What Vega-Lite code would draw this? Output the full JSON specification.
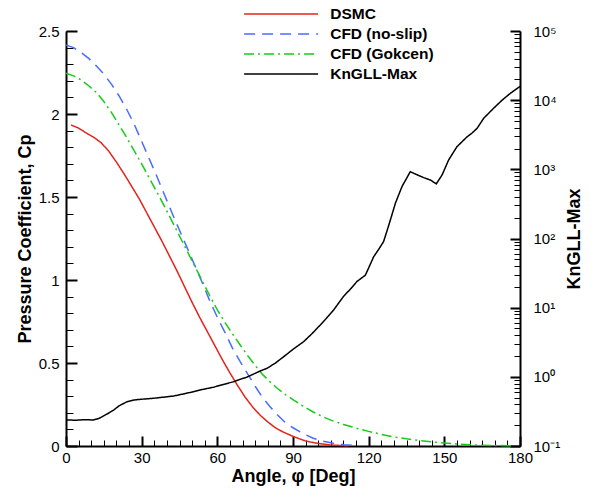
{
  "$schema": "https://vega.github.io/schema/vega-lite/v6.json",
  "width": 454,
  "height": 415,
  "autosize": {"type": "none"},
  "padding": {"left": 66, "top": 31, "right": 71, "bottom": 46},
  "background": "white",
  "datasets": {
    "cp": [
      {"series": "DSMC", "angle": 2, "cp": 1.934}, {"series": "DSMC", "angle": 5, "cp": 1.915}, {"series": "DSMC", "angle": 8, "cp": 1.886}, {"series": "DSMC", "angle": 11, "cp": 1.86}, {"series": "DSMC", "angle": 14, "cp": 1.826}, {"series": "DSMC", "angle": 17, "cp": 1.775}, {"series": "DSMC", "angle": 20, "cp": 1.71}, {"series": "DSMC", "angle": 23, "cp": 1.64}, {"series": "DSMC", "angle": 26, "cp": 1.565}, {"series": "DSMC", "angle": 29, "cp": 1.49}, {"series": "DSMC", "angle": 32, "cp": 1.405}, {"series": "DSMC", "angle": 35, "cp": 1.32}, {"series": "DSMC", "angle": 38, "cp": 1.235}, {"series": "DSMC", "angle": 41, "cp": 1.145}, {"series": "DSMC", "angle": 44, "cp": 1.055}, {"series": "DSMC", "angle": 47, "cp": 0.96}, {"series": "DSMC", "angle": 50, "cp": 0.865}, {"series": "DSMC", "angle": 53, "cp": 0.775}, {"series": "DSMC", "angle": 56, "cp": 0.69}, {"series": "DSMC", "angle": 59, "cp": 0.605}, {"series": "DSMC", "angle": 62, "cp": 0.52}, {"series": "DSMC", "angle": 65, "cp": 0.44}, {"series": "DSMC", "angle": 68, "cp": 0.365}, {"series": "DSMC", "angle": 71, "cp": 0.295}, {"series": "DSMC", "angle": 74, "cp": 0.235}, {"series": "DSMC", "angle": 77, "cp": 0.185}, {"series": "DSMC", "angle": 80, "cp": 0.145}, {"series": "DSMC", "angle": 83, "cp": 0.11}, {"series": "DSMC", "angle": 86, "cp": 0.085}, {"series": "DSMC", "angle": 90, "cp": 0.058}, {"series": "DSMC", "angle": 95, "cp": 0.03}, {"series": "DSMC", "angle": 100, "cp": 0.015}, {"series": "DSMC", "angle": 105, "cp": 0.006}, {"series": "DSMC", "angle": 112, "cp": 0.001},
      {"series": "CFD (no-slip)", "angle": 0, "cp": 2.415}, {"series": "CFD (no-slip)", "angle": 3, "cp": 2.4}, {"series": "CFD (no-slip)", "angle": 6, "cp": 2.37}, {"series": "CFD (no-slip)", "angle": 9, "cp": 2.335}, {"series": "CFD (no-slip)", "angle": 12, "cp": 2.29}, {"series": "CFD (no-slip)", "angle": 15, "cp": 2.24}, {"series": "CFD (no-slip)", "angle": 18, "cp": 2.18}, {"series": "CFD (no-slip)", "angle": 21, "cp": 2.11}, {"series": "CFD (no-slip)", "angle": 24, "cp": 2.03}, {"series": "CFD (no-slip)", "angle": 27, "cp": 1.94}, {"series": "CFD (no-slip)", "angle": 30, "cp": 1.835}, {"series": "CFD (no-slip)", "angle": 33, "cp": 1.73}, {"series": "CFD (no-slip)", "angle": 36, "cp": 1.625}, {"series": "CFD (no-slip)", "angle": 39, "cp": 1.515}, {"series": "CFD (no-slip)", "angle": 42, "cp": 1.405}, {"series": "CFD (no-slip)", "angle": 45, "cp": 1.3}, {"series": "CFD (no-slip)", "angle": 48, "cp": 1.195}, {"series": "CFD (no-slip)", "angle": 51, "cp": 1.09}, {"series": "CFD (no-slip)", "angle": 54, "cp": 0.985}, {"series": "CFD (no-slip)", "angle": 57, "cp": 0.875}, {"series": "CFD (no-slip)", "angle": 60, "cp": 0.775}, {"series": "CFD (no-slip)", "angle": 63, "cp": 0.685}, {"series": "CFD (no-slip)", "angle": 66, "cp": 0.59}, {"series": "CFD (no-slip)", "angle": 69, "cp": 0.51}, {"series": "CFD (no-slip)", "angle": 72, "cp": 0.435}, {"series": "CFD (no-slip)", "angle": 75, "cp": 0.36}, {"series": "CFD (no-slip)", "angle": 78, "cp": 0.29}, {"series": "CFD (no-slip)", "angle": 81, "cp": 0.235}, {"series": "CFD (no-slip)", "angle": 84, "cp": 0.185}, {"series": "CFD (no-slip)", "angle": 87, "cp": 0.14}, {"series": "CFD (no-slip)", "angle": 90, "cp": 0.11}, {"series": "CFD (no-slip)", "angle": 94, "cp": 0.075}, {"series": "CFD (no-slip)", "angle": 98, "cp": 0.047}, {"series": "CFD (no-slip)", "angle": 102, "cp": 0.028}, {"series": "CFD (no-slip)", "angle": 106, "cp": 0.016}, {"series": "CFD (no-slip)", "angle": 110, "cp": 0.008}, {"series": "CFD (no-slip)", "angle": 116, "cp": 0.002},
      {"series": "CFD (Gokcen)", "angle": 0, "cp": 2.245}, {"series": "CFD (Gokcen)", "angle": 3, "cp": 2.23}, {"series": "CFD (Gokcen)", "angle": 6, "cp": 2.205}, {"series": "CFD (Gokcen)", "angle": 9, "cp": 2.17}, {"series": "CFD (Gokcen)", "angle": 12, "cp": 2.13}, {"series": "CFD (Gokcen)", "angle": 15, "cp": 2.075}, {"series": "CFD (Gokcen)", "angle": 18, "cp": 2.01}, {"series": "CFD (Gokcen)", "angle": 21, "cp": 1.935}, {"series": "CFD (Gokcen)", "angle": 24, "cp": 1.86}, {"series": "CFD (Gokcen)", "angle": 27, "cp": 1.78}, {"series": "CFD (Gokcen)", "angle": 30, "cp": 1.7}, {"series": "CFD (Gokcen)", "angle": 33, "cp": 1.615}, {"series": "CFD (Gokcen)", "angle": 36, "cp": 1.53}, {"series": "CFD (Gokcen)", "angle": 39, "cp": 1.445}, {"series": "CFD (Gokcen)", "angle": 42, "cp": 1.355}, {"series": "CFD (Gokcen)", "angle": 45, "cp": 1.265}, {"series": "CFD (Gokcen)", "angle": 48, "cp": 1.175}, {"series": "CFD (Gokcen)", "angle": 51, "cp": 1.085}, {"series": "CFD (Gokcen)", "angle": 54, "cp": 0.995}, {"series": "CFD (Gokcen)", "angle": 57, "cp": 0.905}, {"series": "CFD (Gokcen)", "angle": 60, "cp": 0.82}, {"series": "CFD (Gokcen)", "angle": 63, "cp": 0.745}, {"series": "CFD (Gokcen)", "angle": 66, "cp": 0.675}, {"series": "CFD (Gokcen)", "angle": 69, "cp": 0.61}, {"series": "CFD (Gokcen)", "angle": 72, "cp": 0.545}, {"series": "CFD (Gokcen)", "angle": 75, "cp": 0.485}, {"series": "CFD (Gokcen)", "angle": 78, "cp": 0.43}, {"series": "CFD (Gokcen)", "angle": 81, "cp": 0.385}, {"series": "CFD (Gokcen)", "angle": 84, "cp": 0.345}, {"series": "CFD (Gokcen)", "angle": 87, "cp": 0.31}, {"series": "CFD (Gokcen)", "angle": 90, "cp": 0.28}, {"series": "CFD (Gokcen)", "angle": 94, "cp": 0.24}, {"series": "CFD (Gokcen)", "angle": 98, "cp": 0.205}, {"series": "CFD (Gokcen)", "angle": 102, "cp": 0.175}, {"series": "CFD (Gokcen)", "angle": 106, "cp": 0.15}, {"series": "CFD (Gokcen)", "angle": 110, "cp": 0.13}, {"series": "CFD (Gokcen)", "angle": 115, "cp": 0.108}, {"series": "CFD (Gokcen)", "angle": 120, "cp": 0.088}, {"series": "CFD (Gokcen)", "angle": 125, "cp": 0.07}, {"series": "CFD (Gokcen)", "angle": 130, "cp": 0.055}, {"series": "CFD (Gokcen)", "angle": 135, "cp": 0.043}, {"series": "CFD (Gokcen)", "angle": 140, "cp": 0.033}, {"series": "CFD (Gokcen)", "angle": 145, "cp": 0.025}, {"series": "CFD (Gokcen)", "angle": 150, "cp": 0.018}, {"series": "CFD (Gokcen)", "angle": 155, "cp": 0.012}, {"series": "CFD (Gokcen)", "angle": 160, "cp": 0.008}, {"series": "CFD (Gokcen)", "angle": 165, "cp": 0.005}, {"series": "CFD (Gokcen)", "angle": 170, "cp": 0.003}, {"series": "CFD (Gokcen)", "angle": 178, "cp": 0.001}
    ],
    "kn": [
      {"series": "KnGLL-Max", "angle": 0, "kn": 0.238}, {"series": "KnGLL-Max", "angle": 4, "kn": 0.236}, {"series": "KnGLL-Max", "angle": 7, "kn": 0.24}, {"series": "KnGLL-Max", "angle": 10.9, "kn": 0.238}, {"series": "KnGLL-Max", "angle": 13, "kn": 0.25}, {"series": "KnGLL-Max", "angle": 14.9, "kn": 0.272}, {"series": "KnGLL-Max", "angle": 17, "kn": 0.3}, {"series": "KnGLL-Max", "angle": 18.9, "kn": 0.331}, {"series": "KnGLL-Max", "angle": 21, "kn": 0.38}, {"series": "KnGLL-Max", "angle": 24.2, "kn": 0.437}, {"series": "KnGLL-Max", "angle": 27, "kn": 0.462}, {"series": "KnGLL-Max", "angle": 29.5, "kn": 0.473}, {"series": "KnGLL-Max", "angle": 34.7, "kn": 0.49}, {"series": "KnGLL-Max", "angle": 38, "kn": 0.505}, {"series": "KnGLL-Max", "angle": 42.7, "kn": 0.528}, {"series": "KnGLL-Max", "angle": 46, "kn": 0.56}, {"series": "KnGLL-Max", "angle": 50.6, "kn": 0.61}, {"series": "KnGLL-Max", "angle": 54, "kn": 0.655}, {"series": "KnGLL-Max", "angle": 58.5, "kn": 0.708}, {"series": "KnGLL-Max", "angle": 62, "kn": 0.77}, {"series": "KnGLL-Max", "angle": 66.5, "kn": 0.851}, {"series": "KnGLL-Max", "angle": 69, "kn": 0.92}, {"series": "KnGLL-Max", "angle": 71.6, "kn": 0.986}, {"series": "KnGLL-Max", "angle": 74, "kn": 1.08}, {"series": "KnGLL-Max", "angle": 77, "kn": 1.216}, {"series": "KnGLL-Max", "angle": 79.7, "kn": 1.327}, {"series": "KnGLL-Max", "angle": 83, "kn": 1.58}, {"series": "KnGLL-Max", "angle": 86.3, "kn": 1.954}, {"series": "KnGLL-Max", "angle": 90, "kn": 2.5}, {"series": "KnGLL-Max", "angle": 94.2, "kn": 3.22}, {"series": "KnGLL-Max", "angle": 97.5, "kn": 4.2}, {"series": "KnGLL-Max", "angle": 100.8, "kn": 5.61}, {"series": "KnGLL-Max", "angle": 103.5, "kn": 7.2}, {"series": "KnGLL-Max", "angle": 106.1, "kn": 9.25}, {"series": "KnGLL-Max", "angle": 110, "kn": 14.5}, {"series": "KnGLL-Max", "angle": 113, "kn": 19}, {"series": "KnGLL-Max", "angle": 115.3, "kn": 23.8}, {"series": "KnGLL-Max", "angle": 118.7, "kn": 29.5}, {"series": "KnGLL-Max", "angle": 122, "kn": 54.6}, {"series": "KnGLL-Max", "angle": 124, "kn": 70}, {"series": "KnGLL-Max", "angle": 125.9, "kn": 89.9}, {"series": "KnGLL-Max", "angle": 127.3, "kn": 130}, {"series": "KnGLL-Max", "angle": 128.6, "kn": 185}, {"series": "KnGLL-Max", "angle": 130.6, "kn": 324}, {"series": "KnGLL-Max", "angle": 133.2, "kn": 562}, {"series": "KnGLL-Max", "angle": 136.5, "kn": 925}, {"series": "KnGLL-Max", "angle": 139, "kn": 840}, {"series": "KnGLL-Max", "angle": 141.8, "kn": 759}, {"series": "KnGLL-Max", "angle": 144.5, "kn": 700}, {"series": "KnGLL-Max", "angle": 146.8, "kn": 617}, {"series": "KnGLL-Max", "angle": 149.1, "kn": 828}, {"series": "KnGLL-Max", "angle": 151.7, "kn": 1365}, {"series": "KnGLL-Max", "angle": 155, "kn": 2123}, {"series": "KnGLL-Max", "angle": 159, "kn": 2951}, {"series": "KnGLL-Max", "angle": 161, "kn": 3350}, {"series": "KnGLL-Max", "angle": 163, "kn": 3917}, {"series": "KnGLL-Max", "angle": 165.6, "kn": 5470}, {"series": "KnGLL-Max", "angle": 169.5, "kn": 7621}, {"series": "KnGLL-Max", "angle": 172.9, "kn": 10000}, {"series": "KnGLL-Max", "angle": 176.2, "kn": 12590}, {"series": "KnGLL-Max", "angle": 180, "kn": 15800}
    ]
  },
  "config": {
    "view": {"stroke": null},
    "font": "Liberation Sans",
    "axis": {
      "labelFont": "Liberation Sans",
      "labelFontSize": 15,
      "labelColor": "black",
      "titleFont": "Liberation Sans",
      "titleFontSize": 18,
      "titleFontWeight": "bold",
      "titleColor": "black",
      "domainColor": "black",
      "tickColor": "black",
      "grid": false,
      "labelFlush": false,
      "labelOverlap": false
    }
  },
  "layer": [
    {
      "data": {"name": "cp"},
      "mark": {"type": "line", "strokeWidth": 1.5},
      "encoding": {
        "x": {"field": "angle", "type": "quantitative", "scale": {"domain": [0, 180], "nice": false},
          "axis": {"orient": "bottom", "values": [0, 30, 60, 90, 120, 150, 180], "format": "d", "tickSize": -10, "tickWidth": 2, "domainWidth": 2, "labelPadding": 14, "title": "Angle, φ [Deg]", "titlePadding": 2}},
        "y": {"field": "cp", "type": "quantitative", "scale": {"domain": [0, 2.5], "nice": false, "zero": false},
          "axis": {"orient": "left", "values": [0, 0.5, 1, 1.5, 2, 2.5], "format": "~g", "tickSize": -11, "tickWidth": 2, "domainWidth": 2, "labelPadding": 18, "title": "Pressure Coefficient, Cp", "titlePadding": 4}},
        "color": {"field": "series", "type": "nominal",
          "scale": {"domain": ["DSMC", "CFD (no-slip)", "CFD (Gokcen)", "KnGLL-Max"], "range": ["#e4231b", "#4a6cff", "#16cc16", "#000000"]},
          "legend": {"title": null, "orient": "none", "legendX": 206.6, "legendY": -25.5, "symbolType": "M-5,0H5", "symbolSize": 219, "symbolStrokeWidth": 1.5, "labelFont": "Liberation Sans", "labelFontSize": 15.5, "labelFontWeight": "bold", "labelColor": "black", "labelOffset": 40.6, "rowPadding": 3, "padding": 0}},
        "strokeDash": {"field": "series", "type": "nominal",
          "scale": {"domain": ["DSMC", "CFD (no-slip)", "CFD (Gokcen)", "KnGLL-Max"], "range": [[1, 0], [11, 7], [10, 4, 2, 4], [1, 0]]},
          "legend": {"title": null, "orient": "none", "legendX": 206.6, "legendY": -25.5, "symbolType": "M-5,0H5", "symbolSize": 219, "symbolStrokeWidth": 1.5, "labelFont": "Liberation Sans", "labelFontSize": 15.5, "labelFontWeight": "bold", "labelColor": "black", "labelOffset": 40.6, "rowPadding": 3, "padding": 0}}
      }
    },
    {
      "data": {"name": "cp"},
      "mark": {"type": "line", "strokeOpacity": 0},
      "encoding": {
        "detail": {"field": "series"},
        "x": {"field": "angle", "type": "quantitative", "scale": {"domain": [0, 180], "nice": false},
          "axis": {"orient": "bottom", "values": [0,5,10,15,20,25,30,35,40,45,50,55,60,65,70,75,80,85,90,95,100,105,110,115,120,125,130,135,140,145,150,155,160,165,170,175,180], "labels": false, "domain": false, "tickSize": -6, "tickWidth": 1, "title": null}},
        "y": {"field": "cp", "type": "quantitative", "scale": {"domain": [0, 2.5], "nice": false, "zero": false},
          "axis": {"orient": "left", "values": [0,0.1,0.2,0.3,0.4,0.5,0.6,0.7,0.8,0.9,1,1.1,1.2,1.3,1.4,1.5,1.6,1.7,1.8,1.9,2,2.1,2.2,2.3,2.4,2.5], "labels": false, "domain": false, "tickSize": -7, "tickWidth": 1, "title": null}}
      }
    },
    {
      "data": {"name": "kn"},
      "mark": {"type": "line", "strokeWidth": 1.5},
      "encoding": {
        "x": {"field": "angle", "type": "quantitative", "scale": {"domain": [0, 180], "nice": false}, "axis": null},
        "y": {"field": "kn", "type": "quantitative", "scale": {"type": "log", "domain": [0.1, 100000], "nice": false},
          "axis": {"orient": "right", "values": [0.1, 1, 10, 100, 1000, 10000, 100000], "labelExpr": "'10' + (datum.value < 0.5 ? '⁻¹' : datum.value < 5 ? '⁰' : datum.value < 50 ? '¹' : datum.value < 500 ? '²' : datum.value < 5000 ? '³' : datum.value < 50000 ? '⁴' : '⁵')", "tickSize": -10, "tickWidth": 2, "domainWidth": 2, "labelPadding": 23, "labelAlign": "left", "title": "KnGLL-Max", "titleAngle": -90, "titleBaseline": "top", "titlePadding": 6}},
        "color": {"field": "series", "type": "nominal",
          "scale": {"domain": ["DSMC", "CFD (no-slip)", "CFD (Gokcen)", "KnGLL-Max"], "range": ["#e4231b", "#4a6cff", "#16cc16", "#000000"]},
          "legend": {"title": null, "orient": "none", "legendX": 206.6, "legendY": -25.5, "symbolType": "M-5,0H5", "symbolSize": 219, "symbolStrokeWidth": 1.5, "labelFont": "Liberation Sans", "labelFontSize": 15.5, "labelFontWeight": "bold", "labelColor": "black", "labelOffset": 40.6, "rowPadding": 3, "padding": 0}},
        "strokeDash": {"field": "series", "type": "nominal",
          "scale": {"domain": ["DSMC", "CFD (no-slip)", "CFD (Gokcen)", "KnGLL-Max"], "range": [[1, 0], [11, 7], [10, 4, 2, 4], [1, 0]]},
          "legend": {"title": null, "orient": "none", "legendX": 206.6, "legendY": -25.5, "symbolType": "M-5,0H5", "symbolSize": 219, "symbolStrokeWidth": 1.5, "labelFont": "Liberation Sans", "labelFontSize": 15.5, "labelFontWeight": "bold", "labelColor": "black", "labelOffset": 40.6, "rowPadding": 3, "padding": 0}}
      }
    },
    {
      "data": {"name": "kn"},
      "mark": {"type": "line", "strokeOpacity": 0},
      "encoding": {
        "x": {"field": "angle", "type": "quantitative", "scale": {"domain": [0, 180], "nice": false}, "axis": null},
        "y": {"field": "kn", "type": "quantitative", "scale": {"type": "log", "domain": [0.1, 100000], "nice": false},
          "axis": {"orient": "right", "values": [0.2,0.3,0.4,0.5,0.6,0.7,0.8,0.9,2,3,4,5,6,7,8,9,20,30,40,50,60,70,80,90,200,300,400,500,600,700,800,900,2000,3000,4000,5000,6000,7000,8000,9000,20000,30000,40000,50000,60000,70000,80000,90000], "labels": false, "domain": false, "tickSize": -6, "tickWidth": 1, "title": null}}
      }
    }
  ],
  "resolve": {"scale": {"y": "independent"}, "axis": {"x": "independent", "y": "independent"}}
}
